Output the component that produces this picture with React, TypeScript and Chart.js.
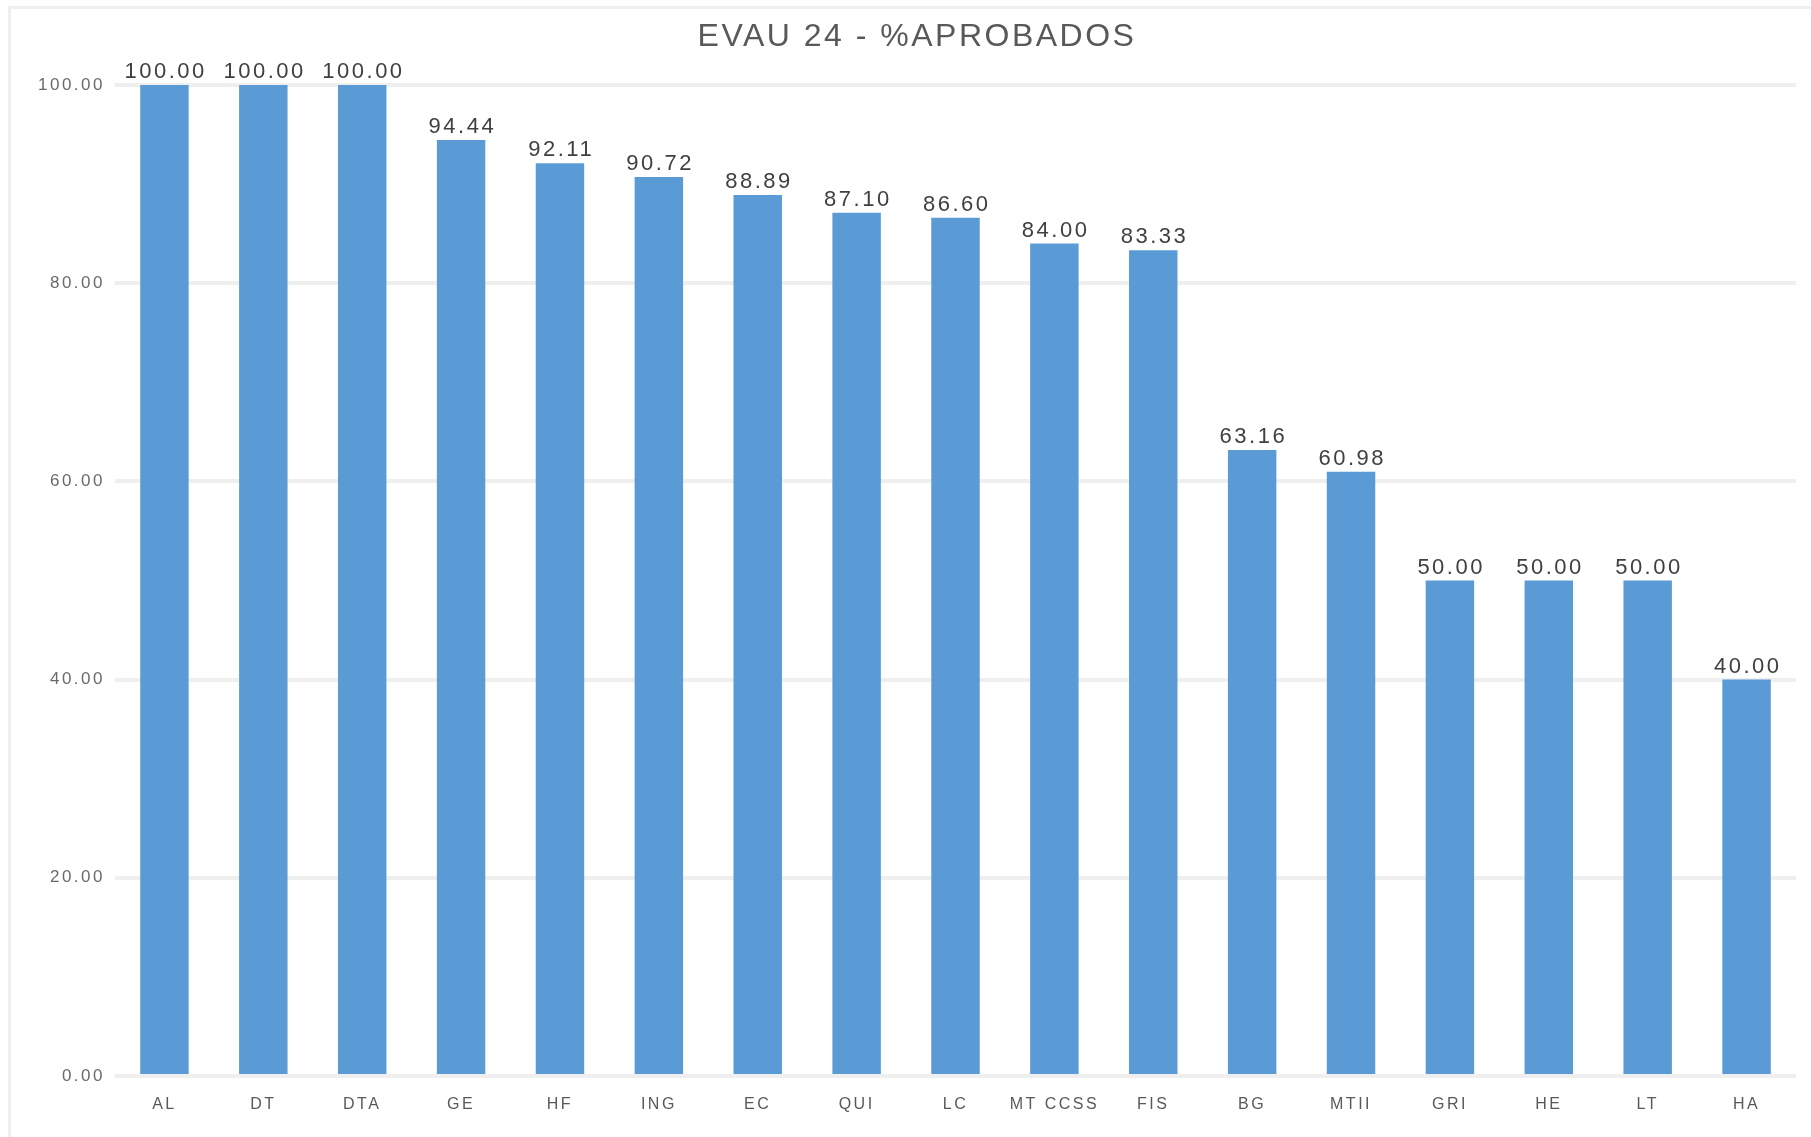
import React, { useEffect, useRef } from "react";
import { Chart, registerables } from "chart.js";

Chart.register(...registerables);

const titleText = "EVAU 24 - %APROBADOS";
const categories = ["AL", "DT", "DTA", "GE", "HF", "ING", "EC", "QUI", "LC", "MT CCSS", "FIS", "BG", "MTII", "GRI", "HE", "LT", "HA"];
const aprobados = [100.0, 100.0, 100.0, 94.44, 92.11, 90.72, 88.89, 87.1, 86.6, 84.0, 83.33, 63.16, 60.98, 50.0, 50.0, 50.0, 40.0];
const yMin = 0;
const yMax = 100;
const yStep = 20;

const FONT = "'Liberation Sans', Arial, sans-serif";
const W = 1811;
const H = 1137;

export default function App() {
  const ref = useRef<HTMLCanvasElement>(null);

  useEffect(() => {
    const canvas = ref.current!;
    const deco = {
      id: "deco",
      beforeDraw(chart: any) {
        const ctx = chart.ctx as CanvasRenderingContext2D;
        ctx.save();
        ctx.fillStyle = "#ffffff";
        ctx.fillRect(0, 0, chart.width, chart.height);
        ctx.strokeStyle = "#efefef";
        ctx.lineWidth = 3;
        ctx.beginPath();
        ctx.moveTo(9.5, chart.height);
        ctx.lineTo(9.5, 7.5);
        ctx.lineTo(chart.width, 7.5);
        ctx.stroke();
        ctx.restore();
        (ctx as any).letterSpacing = "2.5px";
      },
      afterDatasetsDraw(chart: any) {
        const ctx = chart.ctx as CanvasRenderingContext2D;
        const meta = chart.getDatasetMeta(0);
        ctx.save();
        (ctx as any).letterSpacing = "2.5px";
        ctx.font = `22px ${FONT}`;
        ctx.fillStyle = "#404040";
        ctx.textAlign = "center";
        ctx.textBaseline = "alphabetic";
        meta.data.forEach((el: any, i: number) => {
          const v = chart.data.datasets[0].data[i] as number;
          ctx.fillText(v.toFixed(2), el.x + 1.25, el.y - 7);
        });
        ctx.restore();
      },
      afterDraw(chart: any) {
        const ctx = chart.ctx as CanvasRenderingContext2D;
        ctx.save();
        (ctx as any).letterSpacing = "2.5px";
        ctx.font = `32px ${FONT}`;
        ctx.fillStyle = "#595959";
        ctx.textAlign = "center";
        ctx.textBaseline = "alphabetic";
        ctx.fillText(titleText, 917, 46);
        ctx.restore();
      },
    };

    const chart = new Chart(canvas, {
      type: "bar",
      data: {
        labels: categories,
        datasets: [
          {
            data: aprobados,
            backgroundColor: "#5B9BD5",
            borderWidth: 0,
            barPercentage: 0.49,
            categoryPercentage: 1,
          },
        ],
      },
      options: {
        responsive: false,
        animation: false,
        devicePixelRatio: 1,
        layout: { padding: { top: 85, right: 15, left: 0, bottom: 0 } },
        plugins: {
          legend: { display: false },
          title: { display: false },
          tooltip: { enabled: false },
        },
        scales: {
          x: {
            grid: { display: false, drawTicks: false },
            border: { display: false },
            ticks: {
              font: { family: FONT, size: 16 },
              color: "#595959",
              padding: 19,
              maxRotation: 0,
              autoSkip: false,
            },
            afterFit: (scale: any) => {
              scale.height = 61;
            },
          },
          y: {
            min: yMin,
            max: yMax,
            grid: { color: "#efefef", lineWidth: 4, drawTicks: false },
            border: { display: false },
            ticks: {
              stepSize: yStep,
              font: { family: FONT, size: 17 },
              color: "#6a6a6a",
              padding: 10,
              callback: (v: any) => Number(v).toFixed(2),
            },
            afterFit: (scale: any) => {
              scale.width = 115;
            },
          },
        },
      },
      plugins: [deco],
    });
    return () => chart.destroy();
  }, []);

  return (
    <canvas
      ref={ref}
      width={W}
      height={H}
      style={{ position: "fixed", left: 0, top: 0, width: W, height: H, display: "block" }}
    />
  );
}
